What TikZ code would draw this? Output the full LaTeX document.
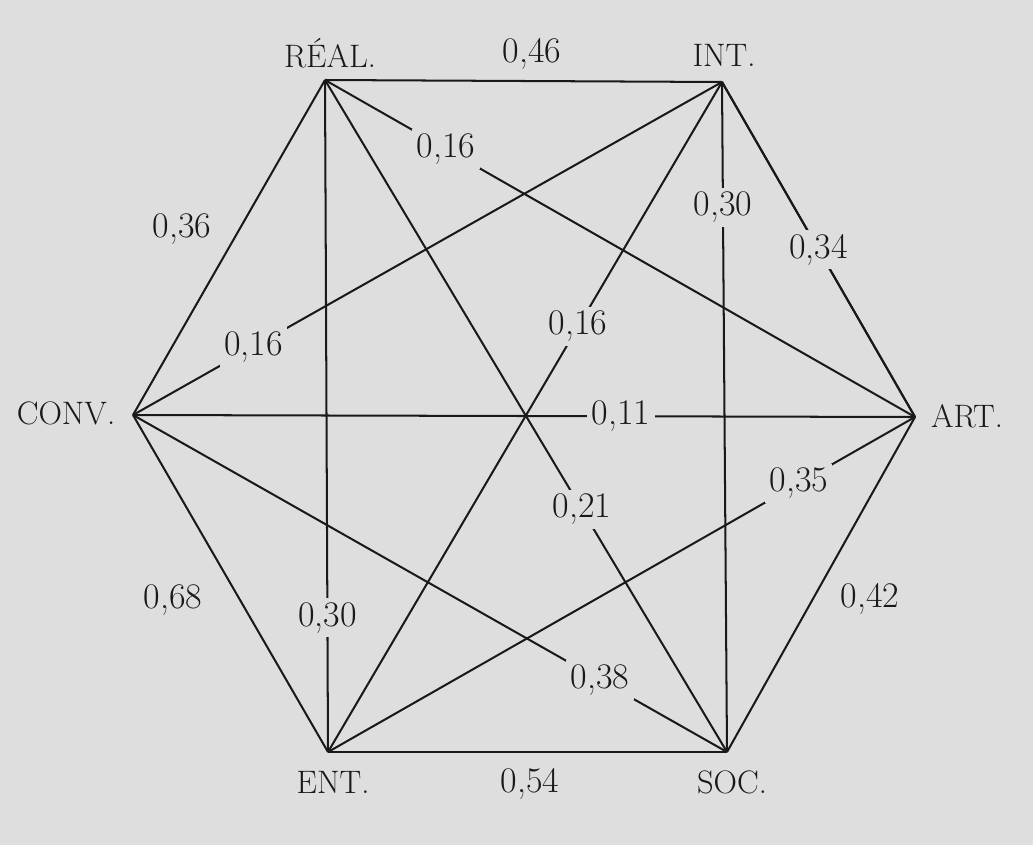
\documentclass[tikz,border=0pt]{standalone}
\definecolor{bg}{gray}{0.87}
\begin{document}
\begin{tikzpicture}[x=0.02cm,y=-0.02cm,
  edge/.style={line width=1.15pt, black!90},
  vtx/.style={font=\fontsize{18.5}{22}\selectfont, inner sep=0pt, text=black!90},
  num/.style={font=\fontsize{20.5}{24}\selectfont, inner sep=1pt, text=black!90},
  cut/.style={num, fill=bg, inner sep=2.5pt}]
\fill[bg] (0,0) rectangle (1033,845);
\useasboundingbox (0,0) rectangle (1033,845);
% vertices
\coordinate (R) at (325,80);
\coordinate (I) at (722,82);
\coordinate (A) at (915,417);
\coordinate (S) at (727,752);
\coordinate (E) at (328,752);
\coordinate (C) at (133,415);
% vertex labels
\node[vtx] (lR) at (330,53) {RÉAL.};
\node[vtx] (lI) at (724,55) {INT.};
\node[vtx] (lA) at (967,416) {ART.};
\node[vtx] (lS) at (732,782) {SOC.};
\node[vtx] (lE) at (333,782) {ENT.};
\node[vtx] (lC) at (66,413) {CONV.};
% hexagon sides
\draw[edge] (R) -- (I);
\draw[edge] (I) -- (A);
\draw[edge] (A) -- (S);
\draw[edge] (S) -- (E);
\draw[edge] (E) -- (C);
\draw[edge] (C) -- (R);
% outer labels
\node[num] (n46) at (532,54) {0,46};
\node[num] (n36) at (182,229) {0,36};
\node[num] (n68) at (173,600) {0,68};
\node[num] (n42) at (870,599) {0,42};
\node[num] (n54) at (530,784) {0,54};
% inner connections
\draw[edge] (I) -- (A) node[cut, pos=0.5] (n34) {0,34};
\draw[edge] (R) -- (E) node[cut, pos=0.80] (n30a) {0,30};
\draw[edge] (I) -- (S) node[cut, pos=0.187] (n30b) {0,30};
\draw[edge] (C) -- (A) node[cut, pos=0.624] (n11) {0,11};
\draw[edge] (R) -- (A) node[cut, pos=0.205] (n16a) {0,16};
\draw[edge] (I) -- (C) node[cut, pos=0.795] (n16b) {0,16};
\draw[edge] (I) -- (E) node[cut, pos=0.365] (n16c) {0,16};
\draw[edge] (R) -- (S) node[cut, pos=0.639] (n21) {0,21};
\draw[edge] (A) -- (E) node[cut, pos=0.198] (n35) {0,35};
\draw[edge] (C) -- (S) node[cut, pos=0.786] (n38) {0,38};
\end{tikzpicture}
\end{document}
